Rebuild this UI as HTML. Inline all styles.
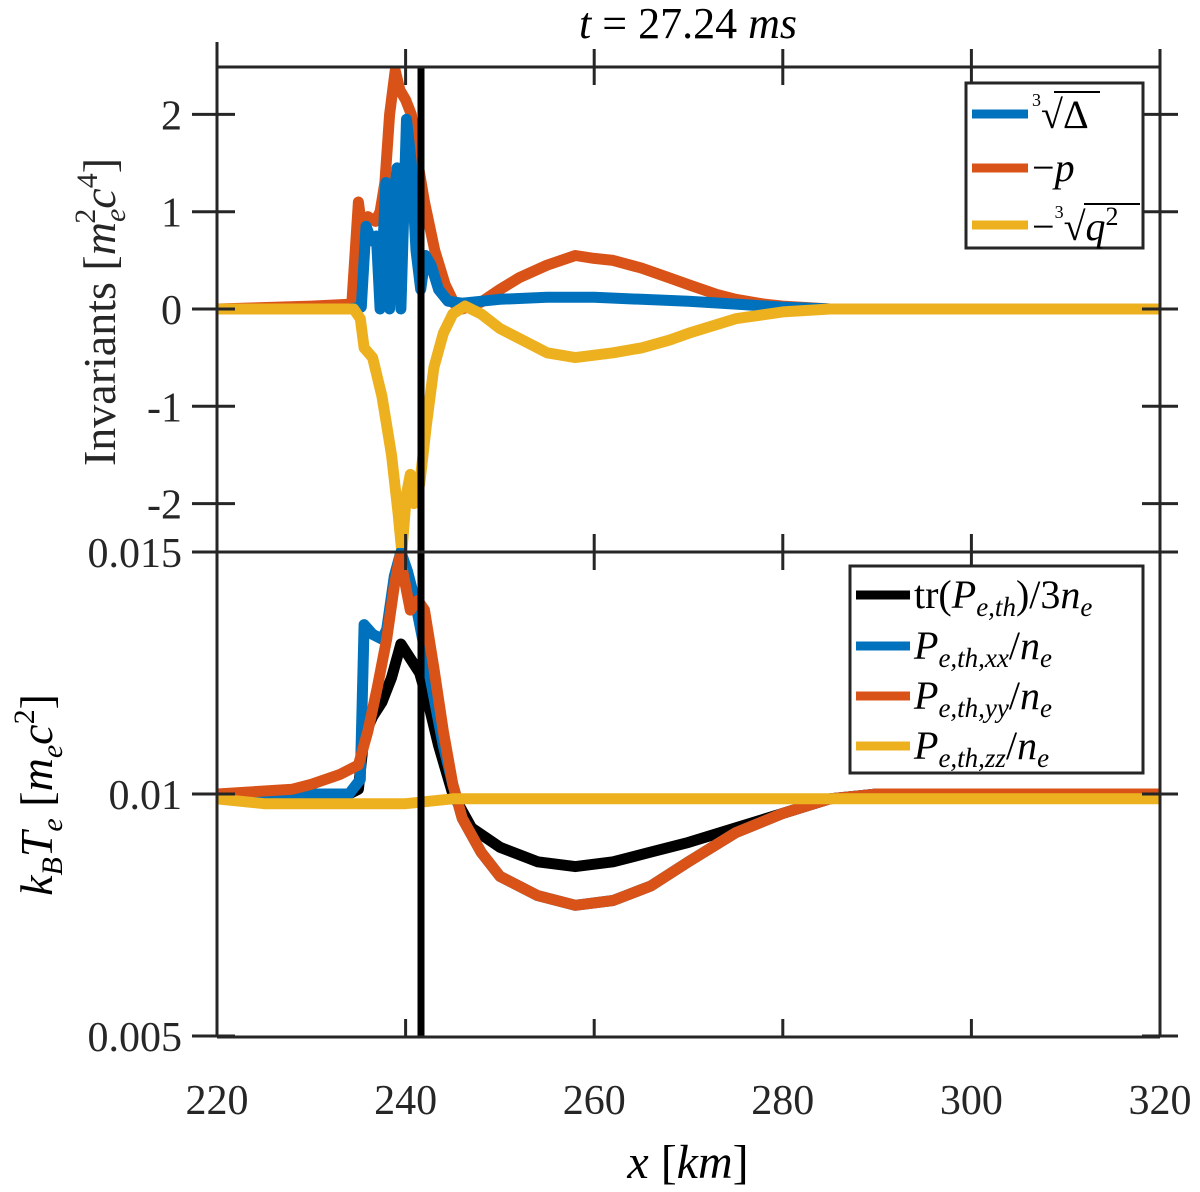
<!DOCTYPE html>
<html><head><meta charset="utf-8">
<style>
html,body{margin:0;padding:0;background:#fff;}
svg{display:block;font-family:"Liberation Serif",serif;}
</style></head>
<body>
<svg id="fig" width="1200" height="1192" viewBox="0 0 1200 1192" xmlns="http://www.w3.org/2000/svg">
<defs>
<clipPath id="clipTop"><rect x="217" y="67" width="943" height="490"/></clipPath>
<clipPath id="clipBot"><rect x="217" y="548" width="943" height="489"/></clipPath>
</defs>
<text x="688" y="38" text-anchor="middle" font-size="44" font-style="italic">t <tspan font-style="normal">=</tspan> <tspan font-style="normal">27.24</tspan> ms</text>
<g id="topPlot" clip-path="url(#clipTop)"></g>
<g id="botPlot" clip-path="url(#clipBot)"></g>
<line x1="421" y1="67" x2="421" y2="1037" stroke="#000" stroke-width="7"/>
<g id="axes" stroke="#262626" stroke-width="3" fill="none"></g>
<g id="ticklabels" font-size="42" fill="#262626"></g>
<text transform="translate(115,312) rotate(-90)" text-anchor="middle" font-size="46" fill="#262626">Invariants [<tspan font-style="italic">m</tspan><tspan font-size="30" dy="10" font-style="italic">e</tspan><tspan font-size="30" dx="-15" dy="-30">2</tspan><tspan font-style="italic" dy="20">c</tspan><tspan font-size="30" dy="-18">4</tspan><tspan dy="18">]</tspan></text>
<text transform="translate(52,795) rotate(-90)" text-anchor="middle" font-size="46" fill="#000"><tspan font-style="italic">k</tspan><tspan font-size="30" dy="10" font-style="italic">B</tspan><tspan font-style="italic" dy="-10">T</tspan><tspan font-size="30" dy="10" font-style="italic">e</tspan><tspan dy="-10"> [</tspan><tspan font-style="italic">m</tspan><tspan font-size="30" dy="10" font-style="italic">e</tspan><tspan font-style="italic" dy="-10">c</tspan><tspan font-size="30" dy="-18">2</tspan><tspan dy="18">]</tspan></text>
<text x="688" y="1178" text-anchor="middle" font-size="48" fill="#000"><tspan font-style="italic">x</tspan> [<tspan font-style="italic">km</tspan>]</text>
<g>
<rect x="966" y="83" width="177" height="165" fill="#fff" stroke="#262626" stroke-width="3"/>
<line x1="972" y1="114" x2="1028" y2="114" stroke="#0072BD" stroke-width="9"/>
<text x="1032" y="128" font-size="40"><tspan font-size="18" dy="-22">3</tspan><tspan dy="22">√Δ</tspan></text>
<line x1="1054" y1="92" x2="1100" y2="92" stroke="#000" stroke-width="2"/>
<line x1="972" y1="168" x2="1028" y2="168" stroke="#D95319" stroke-width="9"/>
<text x="1032" y="181" font-size="40" font-style="italic"><tspan font-style="normal">−</tspan>p</text>
<line x1="972" y1="225" x2="1028" y2="225" stroke="#EDB120" stroke-width="9"/>
<text x="1032" y="240" font-size="40">−<tspan font-size="18" dy="-22">3</tspan><tspan dy="22">√</tspan><tspan font-style="italic">q</tspan><tspan font-size="26" dy="-15">2</tspan></text>
<line x1="1084" y1="204" x2="1140" y2="204" stroke="#000" stroke-width="2"/>
</g>
<g>
<rect x="850" y="566" width="293" height="207" fill="#fff" stroke="#262626" stroke-width="3"/>
<line x1="856" y1="595" x2="910" y2="595" stroke="#000" stroke-width="9"/>
<text x="914" y="608" font-size="40">tr(<tspan font-style="italic">P</tspan><tspan font-size="27" font-style="italic" dy="8">e,th</tspan><tspan dy="-8">)/3</tspan><tspan font-style="italic">n</tspan><tspan font-size="27" font-style="italic" dy="8">e</tspan></text>
<line x1="856" y1="646" x2="910" y2="646" stroke="#0072BD" stroke-width="9"/>
<text x="914" y="659" font-size="40" font-style="italic">P<tspan font-size="27" dy="8">e,th,xx</tspan><tspan font-style="normal" dy="-8">/</tspan>n<tspan font-size="27" dy="8">e</tspan></text>
<line x1="856" y1="696" x2="910" y2="696" stroke="#D95319" stroke-width="9"/>
<text x="914" y="709" font-size="40" font-style="italic">P<tspan font-size="27" dy="8">e,th,yy</tspan><tspan font-style="normal" dy="-8">/</tspan>n<tspan font-size="27" dy="8">e</tspan></text>
<line x1="856" y1="746" x2="910" y2="746" stroke="#EDB120" stroke-width="9"/>
<text x="914" y="759" font-size="40" font-style="italic">P<tspan font-size="27" dy="8">e,th,zz</tspan><tspan font-style="normal" dy="-8">/</tspan>n<tspan font-size="27" dy="8">e</tspan></text>
</g>
</svg>
<script>
// x ticks
const xTicks = [220, 240, 260, 280, 300, 320];
const topYTicks = [-2, -1, 0, 1, 2];
const botYTicks = [0.005, 0.01, 0.015];
const botYLabels = ["0.005", "0.01", "0.015"];
// top panel series: x (km) and values
const xCbrtDelta = [220,234,235.3,235.8,236.4,236.9,237.3,237.9,238.3,238.7,239.1,239.5,240.1,240.6,241.1,241.6,242.1,242.7,243.5,244.5,246,250,255,260,265,270,275,280,285,320];
const yCbrtDelta = [0,0,0.02,0.85,0.7,0.75,0.0,1.3,0.0,1.1,1.45,0.0,1.95,1.5,0.6,0.2,0.55,0.45,0.2,0.08,0.06,0.1,0.12,0.12,0.1,0.08,0.05,0.02,0,0];
const xMinusP = [220,230,234.3,235,235.4,236,236.8,237.3,237.8,238.3,238.9,239.4,240,240.6,241.3,242,243.1,244.2,245.2,246,248,250,252,255,258,260,262,265,268,270,273,275,278,280,285,320];
const yMinusP = [0,0.03,0.05,1.1,0.8,0.95,0.9,1.0,1.3,2.0,2.45,2.25,2.15,2.0,1.5,1.1,0.6,0.25,0.05,0.0,0.07,0.2,0.32,0.45,0.55,0.52,0.5,0.42,0.32,0.25,0.15,0.1,0.05,0.03,0.0,0];
const xCbrtQ2 = [220,234.5,235.2,235.6,236.5,237.5,238.5,239.2,239.6,240.1,240.5,240.9,241.5,242.2,243,244,245,246.3,248,250,252,255,258,262,265,268,270,275,280,285,320];
const yCbrtQ2 = [0,0,-0.1,-0.4,-0.5,-0.9,-1.5,-2.1,-2.5,-1.9,-1.7,-2.0,-1.8,-1.2,-0.6,-0.25,-0.05,0.03,-0.05,-0.2,-0.3,-0.45,-0.5,-0.45,-0.4,-0.32,-0.25,-0.1,-0.03,0,0];
// bottom panel series
const xTrace = [220,234,235,235.6,236.5,237.5,238.5,239.5,240.5,241.5,242.5,243.5,245,247,250,254,258,262,266,270,275,280,285,290,320];
const yTrace = [0.01,0.01,0.0101,0.0112,0.0116,0.0119,0.0124,0.0131,0.0128,0.0125,0.0118,0.011,0.01,0.0093,0.0089,0.0086,0.0085,0.0086,0.0088,0.009,0.0093,0.0096,0.0099,0.01,0.01];
const xPxx = [220,234,235.2,235.6,236.5,237.5,238,238.8,239.5,240.2,241,242,243,244,245,246,248,250,254,258,262,266,270,275,280,285,290,320];
const yPxx = [0.01,0.01,0.0103,0.0135,0.0133,0.0132,0.0134,0.0145,0.015,0.0146,0.014,0.013,0.012,0.011,0.0102,0.0095,0.0088,0.0083,0.0079,0.0077,0.0078,0.0081,0.0086,0.0092,0.0096,0.0099,0.01,0.01];
const xPyy = [220,228,230,233,235,236,237,238,238.8,239.4,240,240.5,241.3,242,243,244,245,246,248,250,254,258,262,266,270,275,280,285,290,320];
const yPyy = [0.01,0.0101,0.0102,0.0104,0.0106,0.0113,0.0122,0.0132,0.0143,0.0149,0.0143,0.0138,0.014,0.0138,0.0126,0.0113,0.0102,0.0095,0.0088,0.0083,0.0079,0.0077,0.0078,0.0081,0.0086,0.0092,0.0096,0.0099,0.01,0.01];
const xPzz = [220,225,230,235,240,245,250,260,270,280,290,300,310,320];
const yPzz = [0.0099,0.0098,0.0098,0.0098,0.0098,0.0099,0.0099,0.0099,0.0099,0.0099,0.0099,0.0099,0.0099,0.0099];

const NS = "http://www.w3.org/2000/svg";
const X0 = 217, X1 = 1160;
function xs(v){ return X0 + (v - 220) / 100 * (X1 - X0); }
function yTop(v){ return 309 - v * 97.3; }
function yBot(v){ return 794 - (v - 0.01) * 48400; }

function drawLine(g, xa, ya, yfn, color, name){
  let d = "";
  for (let i = 0; i < xa.length; i++) d += (i ? "L" : "M") + xs(xa[i]).toFixed(1) + "," + yfn(ya[i]).toFixed(1);
  const p = document.createElementNS(NS, "path");
  p.setAttribute("d", d);
  p.setAttribute("fill", "none");
  p.setAttribute("stroke", color);
  p.setAttribute("stroke-width", "11");
  p.setAttribute("stroke-linejoin", "round");
  p.setAttribute("stroke-linecap", "round");
  
  
  g.appendChild(p);
}
const gt = document.getElementById("topPlot");
drawLine(gt, xMinusP, yMinusP, yTop, "#D95319", "series-minus-p");
drawLine(gt, xCbrtDelta, yCbrtDelta, yTop, "#0072BD", "series-cbrt-delta");
drawLine(gt, xCbrtQ2, yCbrtQ2, yTop, "#EDB120", "series-cbrt-q2");
const gb = document.getElementById("botPlot");
drawLine(gb, xTrace, yTrace, yBot, "#000000", "series-trace");
drawLine(gb, xPxx, yPxx, yBot, "#0072BD", "series-pxx");
drawLine(gb, xPyy, yPyy, yBot, "#D95319", "series-pyy");
drawLine(gb, xPzz, yPzz, yBot, "#EDB120", "series-pzz");

const ax = document.getElementById("axes");
function ln(x1,y1,x2,y2,name){
  const l = document.createElementNS(NS, "line");
  l.setAttribute("x1",x1); l.setAttribute("y1",y1); l.setAttribute("x2",x2); l.setAttribute("y2",y2);
  
  
  ax.appendChild(l);
}
ln(X0,42,X0,1037,"left-axis");
ln(X1,67,X1,1037,"right-axis");
ln(X0,67,X1,67,"top-axis");
ln(X0,552,X1,552,"middle-axis");
ln(X0,1037,X1,1037,"bottom-axis");
const tl = document.getElementById("ticklabels");
function txt(x,y,s,anchor,name){
  const t = document.createElementNS(NS, "text");
  t.setAttribute("x",x); t.setAttribute("y",y); t.setAttribute("text-anchor",anchor);
  t.textContent = s;
  
  
  tl.appendChild(t);
}
xTicks.forEach(v => {
  const x = xs(v);
  ln(x,49,x,85,"x-tick-top");
  ln(x,534,x,570,"x-tick-mid");
  ln(x,1019,x,1037,"x-tick-bottom");
  txt(x,1114,String(v),"middle","x-tick-label");
});
topYTicks.forEach(v => {
  const y = yTop(v);
  ln(X0-25,y,X0+18,y,"top-y-tick-left");
  ln(X1-18,y,X1+18,y,"top-y-tick-right");
  txt(182,y+15,v < 0 ? "-" + Math.abs(v) : String(v),"end","top-y-tick-label");
});
botYTicks.forEach((v,i) => {
  const y = yBot(v);
  ln(X0-25,y,X0+18,y,"bottom-y-tick-left");
  ln(X1-18,y,X1+18,y,"bottom-y-tick-right");
  txt(182,y+15,botYLabels[i],"end","bottom-y-tick-label");
});
</script>
</body></html>
